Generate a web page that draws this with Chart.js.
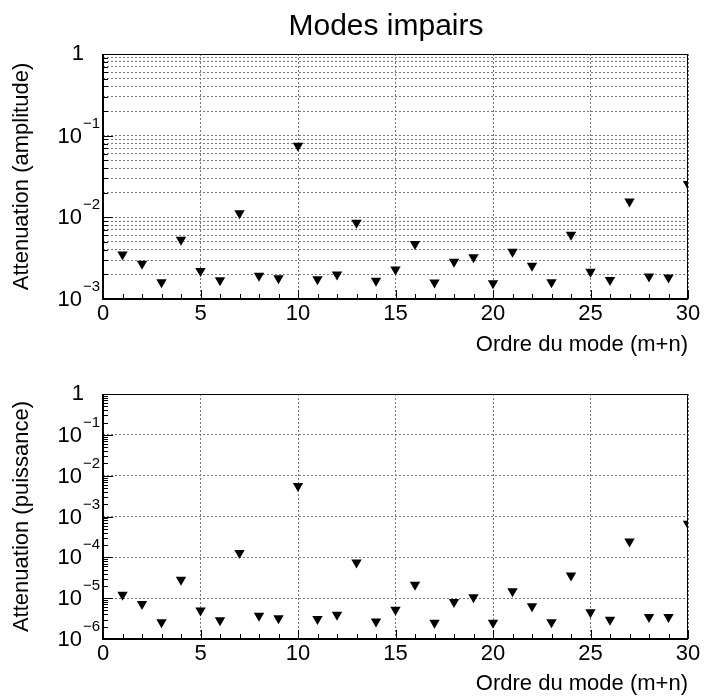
<!DOCTYPE html>
<html>
<head>
<meta charset="utf-8">
<script src="https://cdn.jsdelivr.net/npm/chart.js"></script>
<style>
  body { margin: 0; background: #fff; width: 704px; height: 696px; overflow: hidden; position: relative; }
  canvas { position: absolute; left: 0; }
  #ampl { top: 0; }
  #puis { top: 360px; }
</style>
</head>
<body>
<canvas id="ampl" width="704" height="360"></canvas>
<canvas id="puis" width="704" height="336"></canvas>
<script>
// mode order m+n
var modes = [1, 2, 3, 4, 5, 6, 7, 8, 9, 10, 11, 12, 13, 14, 15,
             16, 17, 18, 19, 20, 21, 22, 23, 24, 25, 26, 27, 28, 29, 30];
// attenuation
var amplitude = [3.5e-3, 2.7e-3, 1.6e-3, 5.3e-3, 2.2e-3, 1.7e-3, 1.12e-2, 1.93e-3, 1.8e-3, 7.5e-2,
                 1.75e-3, 2.0e-3, 8.6e-3, 1.67e-3, 2.3e-3, 4.7e-3, 1.59e-3, 2.85e-3, 3.25e-3, 1.56e-3,
                 3.8e-3, 2.55e-3, 1.6e-3, 6.1e-3, 2.15e-3, 1.71e-3, 1.56e-2, 1.88e-3, 1.83e-3, 2.56e-2];
// attenuation
var puissance = [1.22e-5, 7.2e-6, 2.57e-6, 2.83e-5, 5.0e-6, 2.87e-6, 1.27e-4, 3.73e-6, 3.2e-6, 5.6e-3,
                 3.1e-6, 3.95e-6, 7.5e-5, 2.7e-6, 5.2e-6, 2.14e-5, 2.5e-6, 8.1e-6, 1.05e-5, 2.5e-6,
                 1.47e-5, 6.3e-6, 2.57e-6, 3.6e-5, 4.5e-6, 2.98e-6, 2.45e-4, 3.47e-6, 3.47e-6, 6.6e-4];
var xTicks = [0, 5, 10, 15, 20, 25, 30];
var amplExps = [0, -1, -2, -3];
var puisExps = [0, -1, -2, -3, -4, -5, -6];

var FONT = 'Liberation Sans';

function line(ctx, x1, y1, x2, y2) {
  ctx.beginPath(); ctx.moveTo(x1, y1); ctx.lineTo(x2, y2); ctx.stroke();
}

// ROOT-like frame: inward ticks, box, 10^n labels
var rootAxes = {
  id: 'rootAxes',
  afterDraw: function (chart, args, opts) {
    var ctx = chart.ctx, a = chart.chartArea;
    var xs = chart.scales.x, ys = chart.scales.y;
    var exps = opts.exps;
    ctx.save();
    ctx.strokeStyle = '#000';
    ctx.fillStyle = '#000';
    ctx.lineWidth = 1;
    for (var v = xTicks[0]; v <= xTicks[xTicks.length - 1]; v++) {
      var px = Math.round(xs.getPixelForValue(v)) + 0.5;
      line(ctx, px, a.bottom, px, a.bottom - (v % 5 === 0 ? 9 : 5));
    }
    for (var i = 1; i < exps.length; i++) {
      for (var m = 1; m <= 9; m++) {
        var py = Math.round(ys.getPixelForValue(m * Math.pow(10, exps[i]))) + 0.5;
        line(ctx, a.left, py, a.left + (m === 1 ? 10 : 5), py);
      }
    }
    ctx.strokeRect(a.left + 0.5, a.top + 0.5, a.width - 1, a.height - 1);
    ctx.lineWidth = 2;
    line(ctx, a.left, a.top, a.left, a.bottom + 1);
    line(ctx, a.left - 1, a.bottom, a.right, a.bottom);

    ctx.textBaseline = 'middle';
    exps.forEach(function (e) {
      var y = ys.getPixelForValue(Math.pow(10, e));
      ctx.font = '22px "' + FONT + '"';
      ctx.textAlign = 'right';
      if (e === 0) {
        ctx.fillText('1', 84, y);
      } else {
        ctx.fillText('10', 82, y + 1);
        ctx.font = '15px "' + FONT + '"';
        ctx.textAlign = 'left';
        ctx.fillText('\u2212' + (-e), 83, y - 12);
      }
    });
    if (opts.title) {
      ctx.font = '30px "' + FONT + '"';
      ctx.textAlign = 'center';
      ctx.fillText(opts.title, 386, 27);
    }
    ctx.restore();
  }
};

function makeChart(id, values, exps, yTitle, allMinor, pageTitle, padTop, xHeight, xTitlePad) {
  var pts = modes.map(function (m, i) { return { x: m, y: values[i] }; });
  var lo = Math.pow(10, exps[exps.length - 1]);
  return new Chart(document.getElementById(id), {
    type: 'scatter',
    data: {
      datasets: [{
        data: pts,
        pointStyle: 'triangle',
        pointRotation: 180,
        pointRadius: 6,
        pointBackgroundColor: '#000',
        pointBorderWidth: 0,
        clip: 0
      }]
    },
    options: {
      responsive: false,
      animation: false,
      events: [],
      layout: { padding: { top: padTop, right: 16, left: 0, bottom: 0 } },
      plugins: {
        legend: { display: false },
        tooltip: { enabled: false },
        rootAxes: { exps: exps, title: pageTitle }
      },
      scales: {
        x: {
          type: 'linear',
          min: xTicks[0],
          max: xTicks[xTicks.length - 1],
          afterBuildTicks: function (s) { s.ticks = xTicks.map(function (v) { return { value: v }; }); },
          afterFit: function (s) { s.height = xHeight; },
          ticks: { color: '#000', padding: 2, font: { family: FONT, size: 22 } },
          grid: { drawTicks: false, color: '#777', lineWidth: 1 },
          border: { display: false, dash: [2, 2] },
          title: {
            display: true, text: 'Ordre du mode (m+n)', align: 'end', color: '#000',
            font: { family: FONT, size: 22, lineHeight: 1 }, padding: { top: 0, bottom: xTitlePad }
          }
        },
        y: {
          type: 'logarithmic',
          min: lo,
          max: 1,
          afterBuildTicks: function (s) {
            var t = [];
            for (var i = exps.length - 1; i >= 1; i--) {
              for (var m = 1; m <= 9; m++) {
                if (allMinor || m === 1) t.push({ value: m * Math.pow(10, exps[i]) });
              }
            }
            t.push({ value: 1 });
            s.ticks = t;
          },
          afterFit: function (s) { s.width = 103; },
          ticks: { display: false },
          grid: { drawTicks: false, color: '#777', lineWidth: 1 },
          border: { display: false, dash: [2, 2] },
          title: {
            display: true, text: yTitle, color: '#000',
            font: { family: FONT, size: 22, lineHeight: 1 }, padding: { top: 11, bottom: 0 }
          }
        }
      }
    },
    plugins: [rootAxes]
  });
}

makeChart('ampl', amplitude, amplExps, 'Attenuation (amplitude)', true, 'Modes impairs', 54, 61, 4);
makeChart('puis', puissance, puisExps, 'Attenuation (puissance)', false, null, 34, 57, 1);
</script>
</body>
</html>
